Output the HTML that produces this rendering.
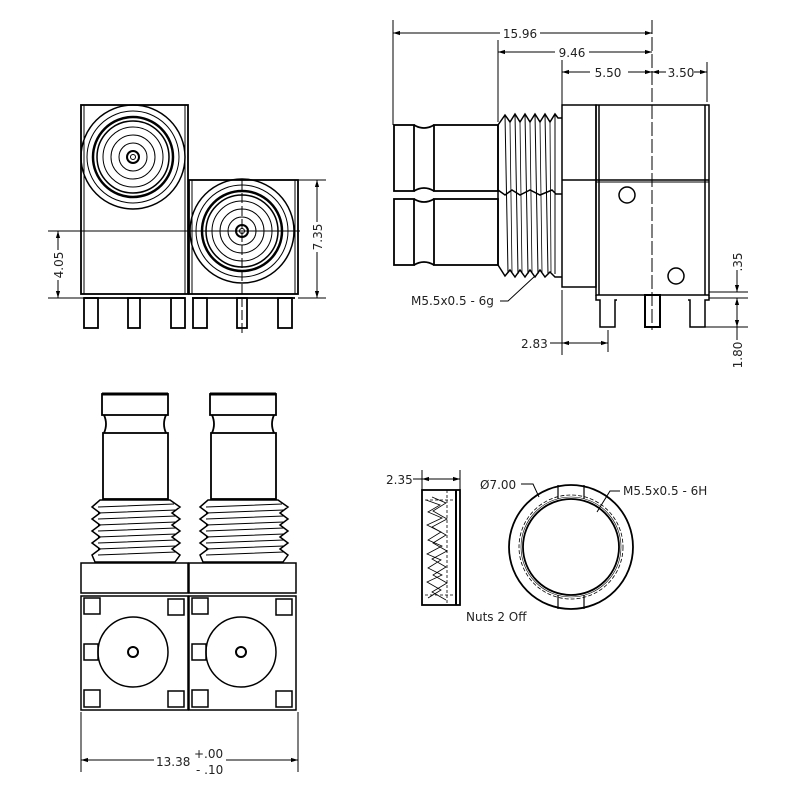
<!DOCTYPE html>
<html><head><meta charset="utf-8"><style>
html,body{margin:0;padding:0;background:#fff}
svg{display:block}
text{font-family:"DejaVu Sans","Liberation Sans",sans-serif;font-size:12px;fill:#222}
</style></head><body>
<svg width="800" height="800" viewBox="0 0 800 800" xmlns="http://www.w3.org/2000/svg">
<defs>
<marker id="a" viewBox="0 0 10 10" refX="10" refY="5" markerWidth="7" markerHeight="7" orient="auto-start-reverse"><path d="M0,2 L10,5 L0,8z" fill="#000"/></marker>
<g id="front">
 <circle r="52" fill="none" stroke="#000" stroke-width="1.5"/>
 <circle r="46" fill="none" stroke="#000" stroke-width="1"/>
 <circle r="40" fill="none" stroke="#000" stroke-width="2.5"/>
 <circle r="36" fill="none" stroke="#000" stroke-width="1.5"/>
 <circle r="30" fill="none" stroke="#000" stroke-width="1"/>
 <circle r="22" fill="none" stroke="#000" stroke-width="1"/>
 <circle r="14" fill="none" stroke="#000" stroke-width="1"/>
 <circle r="6" fill="none" stroke="#000" stroke-width="2"/>
 <circle r="2.5" fill="none" stroke="#000" stroke-width="1"/>
</g>
<g id="conn" fill="none" stroke="#000" stroke-width="1.8">
 <rect x="102" y="394" width="66" height="21"/>
 <line x1="102" y1="394" x2="168" y2="394" stroke-width="3"/>
 <path d="M104,415 Q108,424 104,433 M166,415 Q162,424 166,433"/>
 <rect x="103" y="433" width="65" height="66"/>
 <path d="M100,500 L170,500 L180,507 L172,513 L180,519 L172,525 L180,531 L172,537 L180,543 L172,549 L180,555 L175,562 L95,562 L92,555 L100,549 L92,543 L100,537 L92,531 L100,525 L92,519 L100,513 L92,507z" stroke-width="1.5"/>
 <path d="M98,507 L174,504 M98,513 L176,510 M98,519 L176,516 M98,525 L176,522 M98,531 L176,528 M98,537 L176,534 M98,543 L176,540 M98,549 L176,546 M98,555 L176,552" stroke-width="1"/>
</g>
<g id="sq" fill="none" stroke="#000" stroke-width="1.5">
 <rect x="81" y="563" width="107" height="30"/>
 <rect x="81" y="596" width="107" height="114"/>
 <rect x="84" y="598" width="16" height="16"/>
 <rect x="168" y="599" width="16" height="16"/>
 <rect x="84" y="644" width="14" height="16"/>
 <rect x="84" y="690" width="16" height="17"/>
 <rect x="168" y="691" width="16" height="16"/>
 <circle cx="133" cy="652" r="35"/>
 <circle cx="133" cy="652" r="5" stroke-width="2"/>
</g>
<g id="barrel" fill="none" stroke="#000" stroke-width="1.8">
 <rect x="394" y="0" width="20" height="66"/>
 <path d="M414,0 Q424,6 434,0 M414,66 Q424,60 434,66"/>
 <rect x="434" y="0" width="64" height="66"/>
</g>
</defs>

<!-- ============ TOP LEFT VIEW ============ -->
<g fill="none" stroke="#000" stroke-width="1.8">
 <rect x="81" y="105" width="107" height="189"/>
 <line x1="84" y1="105" x2="84" y2="294" stroke-width="1"/>
 <line x1="185" y1="105" x2="185" y2="294" stroke-width="1"/>
 <rect x="189" y="180" width="109" height="114"/>
 <line x1="192" y1="180" x2="192" y2="294" stroke-width="1"/>
 <line x1="295" y1="180" x2="295" y2="294" stroke-width="1"/>
 <path d="M84,298 L185,298 M192,298 L295,298"/>
 <rect x="84" y="298" width="14" height="30"/>
 <rect x="128" y="298" width="12" height="30"/>
 <rect x="171" y="298" width="14" height="30"/>
 <rect x="193" y="298" width="14" height="30"/>
 <rect x="237" y="298" width="10" height="30"/>
 <rect x="278" y="298" width="14" height="30"/>
</g>
<use href="#front" x="133" y="157"/>
<use href="#front" x="242" y="231"/>
<g stroke="#000" stroke-width="1" fill="none">
 <line x1="242" y1="180" x2="242" y2="335" stroke-dasharray="10,3"/>
 <line x1="48" y1="231" x2="300" y2="231"/>
 <line x1="48" y1="298" x2="84" y2="298"/>
 <line x1="58" y1="231" x2="58" y2="298" marker-start="url(#a)" marker-end="url(#a)"/>
 <line x1="298" y1="180" x2="326" y2="180"/>
 <line x1="298" y1="298" x2="326" y2="298"/>
 <line x1="317" y1="180" x2="317" y2="298" marker-start="url(#a)" marker-end="url(#a)"/>
</g>
<rect x="50" y="250" width="16" height="30" fill="#fff"/>
<text transform="translate(63,265) rotate(-90)" text-anchor="middle">4.05</text>
<rect x="309" y="222" width="16" height="30" fill="#fff"/>
<text transform="translate(322,237) rotate(-90)" text-anchor="middle">7.35</text>

<!-- ============ TOP RIGHT VIEW ============ -->
<g stroke="#000" stroke-width="1" fill="none">
 <line x1="393" y1="20" x2="393" y2="125"/>
 <line x1="498" y1="40" x2="498" y2="122"/>
 <line x1="562" y1="60" x2="562" y2="105"/>
 <line x1="652" y1="20" x2="652" y2="330" stroke-dasharray="14,3"/>
 <line x1="707" y1="62" x2="707" y2="102"/>
 <line x1="393" y1="33" x2="652" y2="33" marker-start="url(#a)" marker-end="url(#a)"/>
 <line x1="498" y1="52" x2="652" y2="52" marker-start="url(#a)" marker-end="url(#a)"/>
 <line x1="562" y1="72" x2="652" y2="72" marker-start="url(#a)" marker-end="url(#a)"/>
 <line x1="652" y1="72" x2="707" y2="72" marker-start="url(#a)" marker-end="url(#a)"/>
</g>
<rect x="500" y="26" width="40" height="14" fill="#fff"/><text x="520" y="38" text-anchor="middle">15.96</text>
<rect x="555" y="45" width="34" height="14" fill="#fff"/><text x="572" y="57" text-anchor="middle">9.46</text>
<rect x="590" y="65" width="38" height="14" fill="#fff"/><text x="608" y="77" text-anchor="middle">5.50</text>
<rect x="666" y="65" width="28" height="14" fill="#fff"/><text x="681" y="77" text-anchor="middle">3.50</text>

<use href="#barrel" x="0" y="125"/>
<use href="#barrel" x="0" y="199"/>
<g fill="none" stroke="#000" stroke-width="1.5">
 <path d="M498,125 L505,115 L510,122 L515,114 L520,122 L525,114 L530,122 L535,114 L540,122 L545,114 L550,122 L555,114 L558,118 L562,118"/>
 <path d="M498,265 L505,276 L510,270 L515,277 L520,270 L525,277 L530,270 L535,277 L540,270 L545,277 L550,272 L555,277 L562,277"/>
 <path d="M498,190 L505,195 L512,190 L520,195 L530,190 L540,195 L552,190 L556,194 L562,194"/>
 <line x1="498" y1="125" x2="498" y2="265"/>
 <path d="M505,115 L508,273 M515,114 L518,274 M525,114 L528,274 M535,114 L538,274 M545,114 L548,274 M555,114 L555,274" stroke-width="1"/>
 <path d="M510,122 L512,272 M520,122 L522,272 M530,122 L532,272 M540,122 L542,272 M550,122 L551,272" stroke-width="0.8"/>
 <rect x="562" y="105" width="34" height="182"/>
 <line x1="562" y1="180" x2="596" y2="180"/>
 <rect x="596" y="105" width="113" height="190"/>
 <line x1="599" y1="105" x2="599" y2="295"/>
 <line x1="705" y1="105" x2="705" y2="295"/>
 <line x1="596" y1="180" x2="709" y2="180"/>
 <line x1="596" y1="182" x2="709" y2="182" stroke-width="1"/>
 <circle cx="627" cy="195" r="8"/>
 <circle cx="676" cy="276" r="8"/>
 <path d="M596,295 L596,300 L600,300 L600,327 L615,327 L615,300 L617,300"/>
 <rect x="645" y="295" width="15" height="32" stroke-width="2"/>
 <path d="M709,295 L709,300 L705,300 L705,327 L690,327 L690,300 L688,300"/>
</g>
<g stroke="#000" stroke-width="1" fill="none">
 <line x1="709" y1="292" x2="748" y2="292"/>
 <line x1="709" y1="298" x2="748" y2="298"/>
 <line x1="705" y1="327" x2="748" y2="327"/>
 <line x1="737" y1="270" x2="737" y2="292" marker-end="url(#a)"/>
 <line x1="737" y1="298" x2="737" y2="327" marker-start="url(#a)" marker-end="url(#a)"/>
 <line x1="737" y1="327" x2="737" y2="340"/>
 <line x1="562" y1="290" x2="562" y2="355"/>
 <line x1="608" y1="330" x2="608" y2="352"/>
 <line x1="562" y1="343" x2="608" y2="343" marker-start="url(#a)" marker-end="url(#a)"/>
 <line x1="550" y1="343" x2="562" y2="343"/>
 <path d="M500,301 L508,301 L535,276"/>
</g>
<text transform="translate(742,262) rotate(-90)" text-anchor="middle">.35</text>
<text transform="translate(742,355) rotate(-90)" text-anchor="middle">1.80</text>
<text x="521" y="348">2.83</text>
<text x="411" y="305">M5.5x0.5 - 6g</text>

<!-- ============ BOTTOM LEFT VIEW ============ -->
<use href="#conn"/>
<use href="#conn" x="108"/>
<use href="#sq"/>
<use href="#sq" x="108"/>
<g stroke="#000" stroke-width="1" fill="none">
 <line x1="81" y1="712" x2="81" y2="772"/>
 <line x1="298" y1="712" x2="298" y2="772"/>
 <line x1="81" y1="760" x2="298" y2="760" marker-start="url(#a)" marker-end="url(#a)"/>
</g>
<rect x="154" y="745" width="72" height="30" fill="#fff"/>
<text x="156" y="766">13.38</text>
<text x="194" y="758" font-size="11">+.00</text>
<text x="196" y="774" font-size="11">- .10</text>

<!-- ============ NUT VIEWS ============ -->
<g stroke="#000" fill="none">
 <line x1="422" y1="470" x2="422" y2="490" stroke-width="1"/>
 <line x1="460" y1="470" x2="460" y2="490" stroke-width="1"/>
 <line x1="422" y1="479" x2="460" y2="479" stroke-width="1" marker-start="url(#a)" marker-end="url(#a)"/>
 <line x1="413" y1="479" x2="422" y2="479" stroke-width="1"/>
 <rect x="422" y="490" width="38" height="115" stroke-width="1.8"/>
 <line x1="456" y1="490" x2="456" y2="605" stroke-width="2"/>
 <line x1="447" y1="490" x2="447" y2="605" stroke-width="0.8" stroke-dasharray="3,2"/>
 <path d="M426,500 L440,505 L428,512 L442,518 L427,525 L441,532 L428,540 L442,546 L427,554 L441,560 L428,568 L442,575 L427,582 L441,590 L428,598" stroke-width="0.8"/>
 <path d="M432,497 L446,503 L433,511 L447,519 L432,527 L446,535 L433,543 L447,551 L432,559 L446,567 L433,575 L447,583 L432,592 L446,600" stroke-width="0.8"/>
 <path d="M425,500 L455,500 M425,595 L455,595" stroke-width="0.8" stroke-dasharray="3,2"/>
 <circle cx="571" cy="547" r="62" stroke-width="1.8"/>
 <circle cx="571" cy="547" r="48" stroke-width="1.8"/>
 <circle cx="571" cy="547" r="52" stroke-width="0.8" stroke-dasharray="4,2"/>
 <circle cx="571" cy="547" r="50" stroke-width="0.6"/>
 <path d="M558,485 L558,499 M584,485 L584,499 M558,595 L558,609 M584,595 L584,609" stroke-width="1.2"/>
 <path d="M521,484 L533,484 L539,497" stroke-width="1"/>
 <path d="M620,491 L610,491 L597,512" stroke-width="1"/>
</g>
<text x="386" y="484">2.35</text>
<text x="480" y="489">Ø7.00</text>
<text x="623" y="495">M5.5x0.5 - 6H</text>
<text x="466" y="621">Nuts 2 Off</text>
</svg>
</body></html>
